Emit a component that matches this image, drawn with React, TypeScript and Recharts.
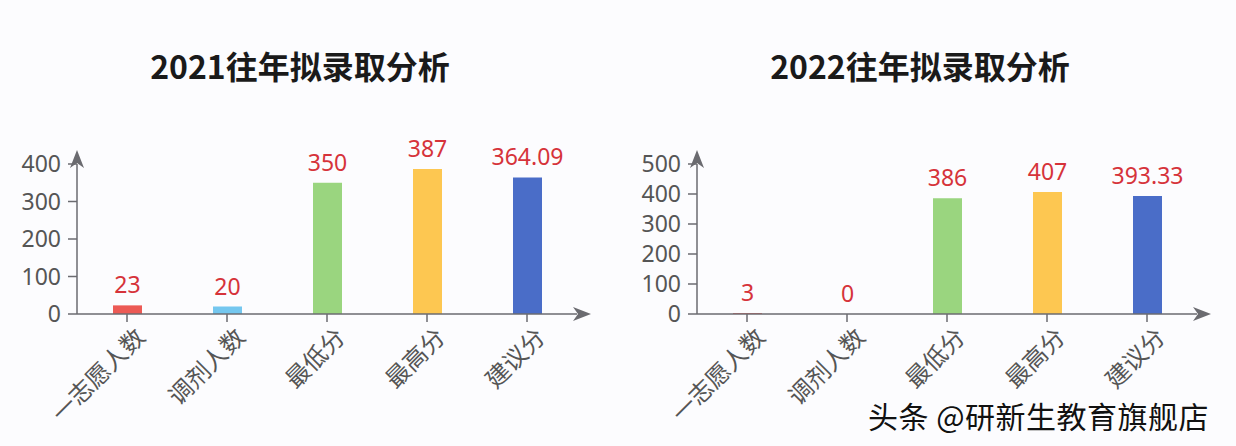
import React from 'react';
import { BarChart, Bar, XAxis, YAxis, Cell, LabelList } from 'recharts';

const categories = ['一志愿人数', '调剂人数', '最低分', '最高分', '建议分'];
const values2021 = [23, 20, 350, 387, 364.09];
const values2022 = [3, 0, 386, 407, 393.33];
const barColors = ['#ec5a55', '#74c7ef', '#9ad57f', '#fdc751', '#4a6dc8'];
const ticks2021 = [0, 100, 200, 300, 400];
const ticks2022 = [0, 100, 200, 300, 400, 500];
const title2021 = '2021往年拟录取分析';
const title2022 = '2022往年拟录取分析';
const watermark = '头条 @研新生教育旗舰店';

const FONT = "'Noto Sans', 'Noto Sans CJK SC', sans-serif";
const AXIS = '#6b6b70';

const RotTick = (props: any) => {
  const { x, y, payload } = props;
  return (
    <g transform={`translate(${x + 7},${y + 2})`}>
      <text
        textAnchor="end"
        transform="rotate(-45)"
        dy="0.75em"
        fill="#555"
        fontSize={24}
        fontFamily={FONT}
      >
        {payload.value}
      </text>
    </g>
  );
};

const Panel = ({ id, values, ticks, max }: { id: string; values: number[]; ticks: number[]; max: number }) => {
  const data = categories.map((c, i) => ({ name: c, value: values[i] }));
  return (
    <BarChart
      width={618}
      height={446}
      data={data}
      margin={{ top: 164, right: 41, bottom: 32, left: 0 }}
      barCategoryGap={0}
    >
      <defs>
        <marker
          id={`arrow-${id}`}
          markerUnits="userSpaceOnUse"
          viewBox="0 0 18 14"
          markerWidth={18}
          markerHeight={14}
          refX={4}
          refY={7}
          orient="auto-start-reverse"
        >
          <path d="M0,0 L18,7 L0,14 L5,7 Z" fill={AXIS} />
        </marker>
      </defs>
      <XAxis
        dataKey="name"
        height={100}
        interval={0}
        axisLine={{ stroke: AXIS, strokeWidth: 1.5, markerEnd: `url(#arrow-${id})` }}
        tickLine={{ stroke: AXIS, strokeWidth: 1.5 }}
        tickSize={8}
        tick={<RotTick />}
      />
      <YAxis
        width={77}
        domain={[0, max]}
        ticks={ticks}
        interval={0}
        axisLine={{ stroke: AXIS, strokeWidth: 1.5, markerStart: `url(#arrow-${id})` }}
        tickLine={{ stroke: AXIS, strokeWidth: 1.5 }}
        tickSize={9}
        tickMargin={7}
        tick={{ fill: '#555', fontSize: 23, fontFamily: FONT }}
      />
      <Bar
        dataKey="value"
        barSize={29}
        isAnimationActive={false}
        minPointSize={(v: number) => (v === 0 ? 0.01 : 0)}
      >
        {data.map((d, i) => (
          <Cell key={d.name} fill={barColors[i]} />
        ))}
        <LabelList
          dataKey="value"
          position="top"
          offset={12}
          fill="#d6333a"
          fontSize={23}
          fontFamily={FONT}
        />
      </Bar>
    </BarChart>
  );
};

const titleStyle: React.CSSProperties = {
  position: 'absolute',
  top: 42,
  width: 600,
  textAlign: 'center',
  fontSize: 32,
  fontWeight: 700,
  color: '#1a1a1a',
  fontFamily: "'Noto Sans CJK SC', sans-serif",
};

export default function App() {
  return (
    <div
      style={{
        position: 'absolute',
        left: 0,
        top: 0,
        width: 1236,
        height: 446,
        background: '#fcfcfe',
        fontFamily: FONT,
        overflow: 'hidden',
      }}
    >
      <div style={{ position: 'absolute', left: 0, top: 0 }}>
        <Panel id="a" values={values2021} ticks={ticks2021} max={400} />
      </div>
      <div style={{ position: 'absolute', left: 620, top: 0 }}>
        <Panel id="b" values={values2022} ticks={ticks2022} max={500} />
      </div>
      <div style={{ ...titleStyle, left: 0 }}>{title2021}</div>
      <div style={{ ...titleStyle, left: 620 }}>{title2022}</div>
      <div
        style={{
          position: 'absolute',
          left: 868,
          top: 393,
          fontSize: 30,
          letterSpacing: 0.5,
          color: '#111',
          fontFamily: "'Noto Sans CJK SC', sans-serif",
          whiteSpace: 'nowrap',
          textShadow: '0 0 2px #fff, 0 0 2px #fff',
        }}
      >
        {watermark}
      </div>
    </div>
  );
}
